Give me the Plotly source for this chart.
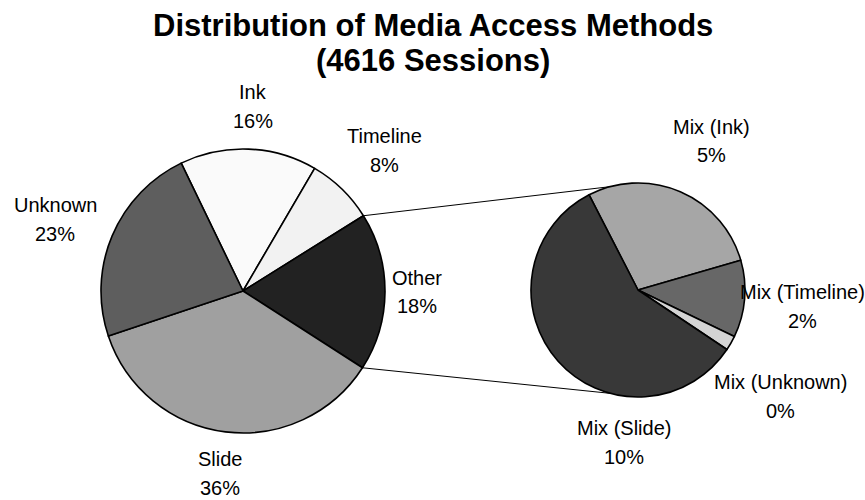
import math
import plotly.graph_objects as go

# Session share by media access method (percent of 4616 sessions)
LEFT_LABELS = ["Ink", "Timeline", "Other", "Slide", "Unknown"]
LEFT_VALUES = [15.6, 7.7, 18.0, 35.8, 23.0]

# Breakdown of the "Other" share into mixed methods
RIGHT_LABELS = ["Mix (Ink)", "Mix (Timeline)", "Mix (Unknown)", "Mix (Slide)"]
RIGHT_VALUES = [5.05, 2.1, 0.4, 10.45]

TITLE = "Distribution of Media Access Methods"
SUBTITLE = "(4616 Sessions)"

# ---- styling / layout ----
W, H = 865, 500
LEFT_COLORS = ["#FAFAFA", "#F2F2F2", "#222222", "#A0A0A0", "#5E5E5E"]
RIGHT_COLORS = ["#A6A6A6", "#676767", "#D4D4D4", "#383838"]

LEFT_CENTER, LEFT_R, LEFT_ROT = (243, 291), 142, -25.8
RIGHT_CENTER, RIGHT_R, RIGHT_ROT = (638, 290), 107, -27.2
EXPLODED = "Other"          # slice of the main pie that the second pie breaks down
CONNECTOR_ANGLE = 15        # where the connector lines meet the second pie

# label placement: distance from pie centre and angular nudge off the slice middle
LEFT_LABEL_DIST = [185, 199, 174, 184, 201]
LEFT_LABEL_SHIFT = [1, 1, 0, 0, -2]
RIGHT_LABEL_DIST = [166, 165, 178, 153]
RIGHT_LABEL_SHIFT = [3, 1, 7, -43]
LABEL_FONT = dict(family="Liberation Sans, Arial, sans-serif", size=20, color="black")
LINE_GAP = 28.5


def domain(center, r):
    cx, cy = center
    return dict(x=[(cx - r) / W, (cx + r) / W], y=[1 - (cy + r) / H, 1 - (cy - r) / H])


def slice_bounds(values, rot):
    total = sum(values)
    out, a = [], rot
    for v in values:
        span = v / total * 360.0
        out.append((a, a + span))
        a += span
    return out


def polar(center, rr, ang):
    cx, cy = center
    t = math.radians(ang)
    return cx + rr * math.sin(t), cy - rr * math.cos(t)


def to_paper(px, py):
    return px / W, 1 - py / H


fig = go.Figure()

for labels, values, colors, center, r, rot in [
    (LEFT_LABELS, LEFT_VALUES, LEFT_COLORS, LEFT_CENTER, LEFT_R, LEFT_ROT),
    (RIGHT_LABELS, RIGHT_VALUES, RIGHT_COLORS, RIGHT_CENTER, RIGHT_R, RIGHT_ROT),
]:
    fig.add_trace(go.Pie(
        labels=labels, values=values, sort=False, direction="clockwise",
        rotation=rot, domain=domain(center, r), textinfo="none",
        marker=dict(colors=colors, line=dict(color="black", width=1.6)),
        showlegend=False, hovertemplate="%{label}: %{value:.1f}%<extra></extra>",
    ))

annotations = []


def add_labels(labels, values, center, r, rot, dists, shifts):
    for lab, val, (a0, a1), d, s in zip(labels, values, slice_bounds(values, rot), dists, shifts):
        x, y = polar(center, d, (a0 + a1) / 2 + s)
        for text, dy in [(lab, -LINE_GAP / 2), (f"{val:.0f}%", LINE_GAP / 2)]:
            px, py = to_paper(x, y + dy)
            annotations.append(dict(
                x=px, y=py, xref="paper", yref="paper", text=text, showarrow=False,
                xanchor="center", yanchor="middle", font=LABEL_FONT,
            ))


add_labels(LEFT_LABELS, LEFT_VALUES, LEFT_CENTER, LEFT_R, LEFT_ROT, LEFT_LABEL_DIST, LEFT_LABEL_SHIFT)
add_labels(RIGHT_LABELS, RIGHT_VALUES, RIGHT_CENTER, RIGHT_R, RIGHT_ROT, RIGHT_LABEL_DIST, RIGHT_LABEL_SHIFT)

# connector lines from the exploded slice edges to the second pie
a0, a1 = slice_bounds(LEFT_VALUES, LEFT_ROT)[LEFT_LABELS.index(EXPLODED)]
shapes = []
for a_left, a_right in [(a0, -CONNECTOR_ANGLE), (a1, 180 + CONNECTOR_ANGLE)]:
    x0, y0 = to_paper(*polar(LEFT_CENTER, LEFT_R, a_left))
    x1, y1 = to_paper(*polar(RIGHT_CENTER, RIGHT_R, a_right))
    shapes.append(dict(type="line", xref="paper", yref="paper", x0=x0, y0=y0, x1=x1, y1=y1,
                       line=dict(color="black", width=1), layer="below"))

title_font = dict(family="Liberation Sans, Arial, sans-serif", size=31, color="black")
for text, py in [(TITLE, 25), (SUBTITLE, 60)]:
    annotations.append(dict(x=0.5, y=1 - py / H, xref="paper", yref="paper", text=f"<b>{text}</b>",
                            showarrow=False, xanchor="center", yanchor="middle", font=title_font))

fig.update_layout(
    width=W, height=H, autosize=False,
    margin=dict(l=0, r=0, t=0, b=0),
    paper_bgcolor="white", plot_bgcolor="white",
    annotations=annotations, shapes=shapes,
)

fig.write_html("out.html")
